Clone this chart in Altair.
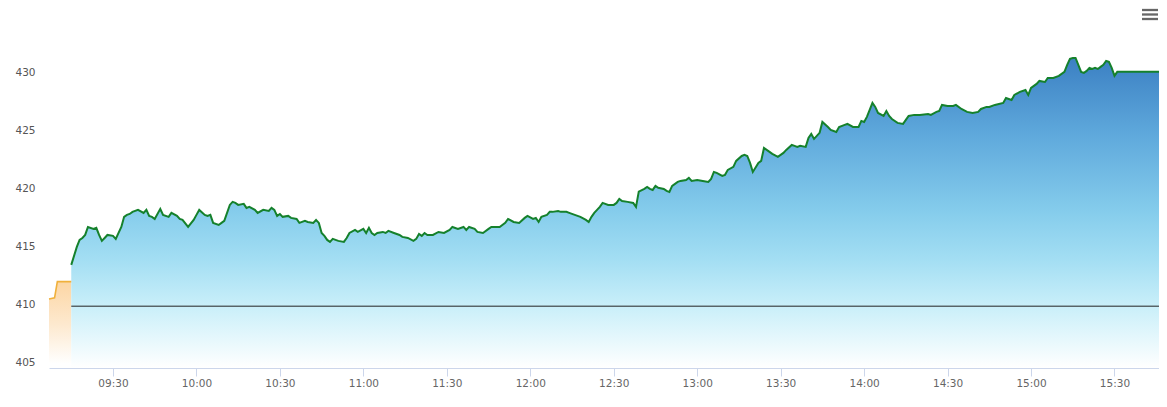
import altair as alt
import pandas as pd

# ---- data ----
pre_times = ["09:07", "09:09", "09:10", "09:15"]
pre_prices = [410.45, 410.55, 411.95, 411.95]

main_times = [
    "09:15", "09:17", "09:18", "09:19", "09:20", "09:21", "09:23", "09:24", "09:25", "09:26",
    "09:27", "09:28", "09:30", "09:31", "09:32", "09:33", "09:34", "09:35", "09:36", "09:37",
    "09:39", "09:41", "09:42", "09:43", "09:44", "09:45", "09:47", "09:48", "09:50", "09:51",
    "09:53", "09:54", "09:55", "09:57", "09:59", "10:00", "10:01", "10:03", "10:04", "10:05",
    "10:06", "10:08", "10:09", "10:10", "10:12", "10:13", "10:14", "10:15", "10:17", "10:18",
    "10:19", "10:21", "10:22", "10:24", "10:26", "10:27", "10:28", "10:29", "10:30", "10:31",
    "10:33", "10:34", "10:36", "10:37", "10:39", "10:40", "10:42", "10:43", "10:44", "10:45",
    "10:46", "10:47", "10:48", "10:49", "10:51", "10:53", "10:54", "10:55", "10:57", "10:58",
    "11:00", "11:01", "11:02", "11:03", "11:04", "11:05", "11:07", "11:08", "11:09", "11:11",
    "11:13", "11:14", "11:16", "11:18", "11:19", "11:20", "11:21", "11:22", "11:23", "11:25",
    "11:27", "11:29", "11:31", "11:32", "11:34", "11:36", "11:37", "11:38", "11:40", "11:41",
    "11:43", "11:45", "11:46", "11:47", "11:49", "11:51", "11:52", "11:54", "11:56", "11:58",
    "11:59", "12:01", "12:02", "12:03", "12:04", "12:06", "12:07", "12:08", "12:10", "12:11",
    "12:13", "12:14", "12:16", "12:18", "12:20", "12:21", "12:22", "12:23", "12:24", "12:25",
    "12:26", "12:28", "12:30", "12:31", "12:32", "12:33", "12:35", "12:37", "12:38", "12:39",
    "12:41", "12:42", "12:43", "12:44", "12:45", "12:46", "12:48", "12:49", "12:50", "12:51",
    "12:53", "12:54", "12:56", "12:57", "12:58", "13:00", "13:02", "13:04", "13:05", "13:06",
    "13:07", "13:09", "13:10", "13:11", "13:13", "13:14", "13:16", "13:17", "13:18", "13:19",
    "13:20", "13:22", "13:23", "13:24", "13:26", "13:27", "13:29", "13:31", "13:32", "13:34",
    "13:35", "13:36", "13:37", "13:39", "13:40", "13:41", "13:42", "13:44", "13:45", "13:47",
    "13:48", "13:50", "13:51", "13:53", "13:54", "13:56", "13:58", "13:59", "14:00", "14:01",
    "14:02", "14:03", "14:04", "14:05", "14:07", "14:08", "14:09", "14:10", "14:12", "14:14",
    "14:15", "14:16", "14:18", "14:20", "14:23", "14:24", "14:26", "14:27", "14:28", "14:30",
    "14:32", "14:33", "14:35", "14:37", "14:39", "14:41", "14:42", "14:44", "14:45", "14:47",
    "14:50", "14:51", "14:53", "14:54", "14:56", "14:58", "14:59", "15:00", "15:02", "15:03",
    "15:05", "15:06", "15:08", "15:10", "15:12", "15:13", "15:14", "15:15", "15:16", "15:17",
    "15:18", "15:19", "15:20", "15:21", "15:22", "15:23", "15:24", "15:25", "15:26", "15:27",
    "15:28", "15:29", "15:30", "15:31", "15:46",
]
main_prices = [
    413.39, 414.94, 415.54, 415.71, 415.97, 416.66, 416.49, 416.58, 415.97, 415.46,
    415.71, 415.97, 415.89, 415.63, 416.15, 416.66, 417.53, 417.70, 417.78, 417.96,
    418.13, 417.87, 418.13, 417.61, 417.53, 417.35, 418.22, 417.70, 417.53, 417.87,
    417.61, 417.35, 417.27, 416.66, 417.27, 417.70, 418.13, 417.70, 417.61, 417.70,
    417.01, 416.83, 417.01, 417.18, 418.56, 418.82, 418.73, 418.56, 418.65, 418.30,
    418.39, 418.13, 417.87, 418.13, 418.04, 418.30, 418.13, 417.61, 417.78, 417.53,
    417.61, 417.44, 417.35, 417.01, 417.18, 417.09, 417.01, 417.27, 417.01, 416.14,
    415.89, 415.54, 415.37, 415.63, 415.46, 415.37, 415.71, 416.14, 416.40, 416.23,
    416.49, 416.14, 416.58, 416.14, 415.97, 416.14, 416.23, 416.14, 416.32, 416.14,
    415.97, 415.80, 415.71, 415.46, 415.63, 416.06, 415.89, 416.14, 415.97, 415.97,
    416.23, 416.14, 416.40, 416.66, 416.49, 416.66, 416.40, 416.66, 416.49, 416.23,
    416.14, 416.49, 416.66, 416.66, 416.66, 417.01, 417.35, 417.09, 417.01, 417.44,
    417.61, 417.35, 417.44, 417.09, 417.53, 417.70, 417.96, 417.96, 418.04, 417.96,
    417.96, 417.87, 417.70, 417.53, 417.27, 417.09, 417.53, 417.87, 418.13, 418.39,
    418.73, 418.56, 418.56, 418.73, 419.08, 418.90, 418.82, 418.73, 418.39, 419.70,
    419.94, 420.11, 419.94, 419.85, 420.20, 420.03, 419.94, 419.77, 419.68, 420.20,
    420.54, 420.63, 420.71, 420.89, 420.63, 420.71, 420.63, 420.54, 420.80, 421.40,
    421.32, 421.06, 421.15, 421.58, 421.84, 422.35, 422.78, 422.87, 422.78, 422.18,
    421.40, 422.18, 422.35, 423.47, 423.13, 422.96, 422.70, 423.04, 423.30, 423.73,
    423.65, 423.56, 423.65, 423.56, 424.34, 424.68, 424.25, 424.77, 425.71, 425.28,
    425.03, 424.85, 425.28, 425.46, 425.54, 425.28, 425.28, 425.80, 425.71, 426.15,
    426.75, 427.35, 427.01, 426.49, 426.23, 426.66, 426.23, 425.97, 425.63, 425.54,
    425.89, 426.23, 426.32, 426.32, 426.40, 426.32, 426.58, 426.66, 427.18, 427.09,
    427.09, 427.18, 426.83, 426.58, 426.49, 426.58, 426.83, 427.01, 427.01, 427.18,
    427.35, 427.78, 427.61, 428.04, 428.30, 428.47, 428.04, 428.65, 428.99, 429.25,
    429.16, 429.51, 429.51, 429.68, 430.03, 430.63, 431.15, 431.23, 431.23, 430.63,
    430.03, 429.94, 430.11, 430.37, 430.28, 430.37, 430.28, 430.46, 430.63, 430.97,
    430.89, 430.37, 429.68, 430.03, 430.03,
]

prev_close = 409.83
x_ticks = ["09:30", "10:00", "10:30", "11:00", "11:30", "12:00", "12:30",
           "13:00", "13:30", "14:00", "14:30", "15:00", "15:30"]
y_ticks = [405, 410, 415, 420, 425, 430]
x_start, x_end = "09:07", "15:46"
y_min, y_max = 404.5, 434.5


def to_min(t):
    h, m = t.split(":")
    return int(h) * 60 + int(m)


pre = pd.DataFrame({"t": [to_min(t) for t in pre_times], "price": pre_prices})
main = pd.DataFrame({"t": [to_min(t) for t in main_times], "price": main_prices})
base = pd.DataFrame({"t0": [to_min(main_times[0])], "t1": [to_min(x_end)], "y": [prev_close]})

xscale = alt.Scale(domain=[to_min(x_start), to_min(x_end)], nice=False, zero=False)
yscale = alt.Scale(domain=[y_min, y_max], nice=False, zero=False)

label_expr = ("(floor(datum.value/60) < 10 ? '0' : '') + floor(datum.value/60) + ':' + "
              "(datum.value % 60 < 10 ? '0' : '') + (datum.value % 60)")

x_axis = alt.Axis(values=[to_min(t) for t in x_ticks], labelExpr=label_expr, grid=False,
                  domainColor="#ccd6eb", tickColor="#ccd6eb", tickSize=8, labelPadding=2,
                  labelColor="#666666", labelFontSize=10.5, labelFont="DejaVu Sans",
                  title=None)
y_axis = alt.Axis(values=y_ticks, grid=False, domain=False, ticks=False, labelPadding=14,
                  labelColor="#555555", labelFontSize=10.5, labelFont="DejaVu Sans",
                  title=None)

X = alt.X("t:Q", scale=xscale, axis=x_axis)
Y = alt.Y("price:Q", scale=yscale, axis=y_axis)

blue_grad = alt.Gradient(
    gradient="linear", x1=0, x2=0, y1=0, y2=1,
    stops=[
        alt.GradientStop(color="#3b80c3", offset=0),
        alt.GradientStop(color="#5fa9dc", offset=0.25),
        alt.GradientStop(color="#86cdec", offset=0.5),
        alt.GradientStop(color="#a3def3", offset=0.65),
        alt.GradientStop(color="#c9eff9", offset=0.8),
        alt.GradientStop(color="#ffffff", offset=1),
    ],
)
orange_grad = alt.Gradient(
    gradient="linear", x1=0, x2=0, y1=0, y2=1,
    stops=[
        alt.GradientStop(color="#fcd6a4", offset=0),
        alt.GradientStop(color="#fde9cf", offset=0.5),
        alt.GradientStop(color="#ffffff", offset=0.95),
    ],
)

pre_area = alt.Chart(pre).mark_area(color=orange_grad).encode(x=X, y=Y, y2=alt.datum(y_min))
main_area = alt.Chart(main).mark_area(color=blue_grad).encode(x=X, y=Y, y2=alt.datum(y_min))
rule = alt.Chart(base).mark_rule(color="#222222", strokeWidth=1).encode(
    x="t0:Q", x2="t1:Q", y="y:Q")
pre_line = alt.Chart(pre).mark_line(color="#f0b13c", strokeWidth=1.6).encode(x=X, y=Y)
main_line = alt.Chart(main).mark_line(color="#15812c", strokeWidth=2).encode(x=X, y=Y)

# export-menu icon (three grey bars) in the top-right corner
menu_bars = [
    alt.Chart(base).mark_rule(color="#666666", strokeWidth=2.3).encode(
        x=alt.value(1093), x2=alt.value(1109), y=alt.value(dy))
    for dy in (-10, -5.5, -1)
]

chart = alt.layer(pre_area, main_area, rule, pre_line, main_line, *menu_bars).properties(
    width=1110, height=348,
    padding={"left": 41, "top": 12, "right": 0, "bottom": 30},
    autosize=alt.AutoSizeParams(type="none"),
).configure_view(strokeWidth=0)

chart.save("out.html", embed_options={"renderer": "svg", "actions": False})
